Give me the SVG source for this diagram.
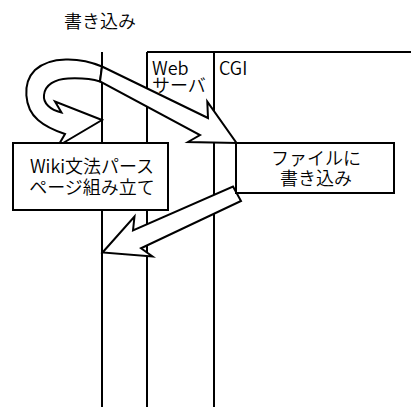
<svg xmlns="http://www.w3.org/2000/svg" width="411" height="407" viewBox="0 0 411 407">
<style>
.ln{stroke:#000;stroke-width:2;fill:none}
.box{fill:#fff;stroke:#000;stroke-width:2}
.arr{fill:#fff;stroke:#000;stroke-width:2;stroke-linejoin:miter}
text{font-family:"Noto Sans CJK JP","DejaVu Sans",sans-serif;font-size:18px;font-weight:350;fill:#000}
.c{text-anchor:middle}
</style>
<rect width="411" height="407" fill="#fff"/>
<g id="client">
<text class="c" x="100" y="28">書き込み</text>
<line class="ln" x1="102" y1="52" x2="102" y2="407"/>
</g>
<g id="webserver">
<line class="ln" x1="147" y1="52" x2="147" y2="407"/>
<line class="ln" x1="147" y1="52" x2="214" y2="52"/>
<text x="152" y="74.5">Web</text>
<text x="152" y="92">サーバ</text>
</g>
<g id="cgi">
<line class="ln" x1="214" y1="52" x2="214" y2="407"/>
<line class="ln" x1="214" y1="52" x2="411" y2="52"/>
<text x="219" y="74.5">CGI</text>
</g>
<g id="connectors">
<path class="arr" d="M102,66.5 C80,57 50,56 35,70 C22,83 24,108 38,120 C46,127 56,131 65,134 L58,146 L102,120 L55,101.5 L61.5,112.5 C50,110 43,103 44,95 C45,85 55,79 68,78.5 C80,78 92,79 100,81.5 Z"/>
<path class="arr" d="M102,66.5 L208,118 L207.3,101.7 L236.5,143 L188,142 L200,135 L100,81.5 Z"/>
<path class="arr" d="M233,186.5 L241,201 L141,248.3 L152.5,256.5 L102.5,252.5 L134.5,216.5 L133,230.5 Z"/>
</g>
<g id="wiki">
<rect class="box" x="13" y="143" width="155" height="67"/>
<text class="c" x="92" y="172.5">Wiki文法パース</text>
<text class="c" x="92" y="194">ページ組み立て</text>
</g>
<g id="file">
<rect class="box" x="236" y="143" width="158" height="50"/>
<text class="c" x="316" y="164.5">ファイルに</text>
<text class="c" x="316" y="184.5">書き込み</text>
</g>
</svg>
